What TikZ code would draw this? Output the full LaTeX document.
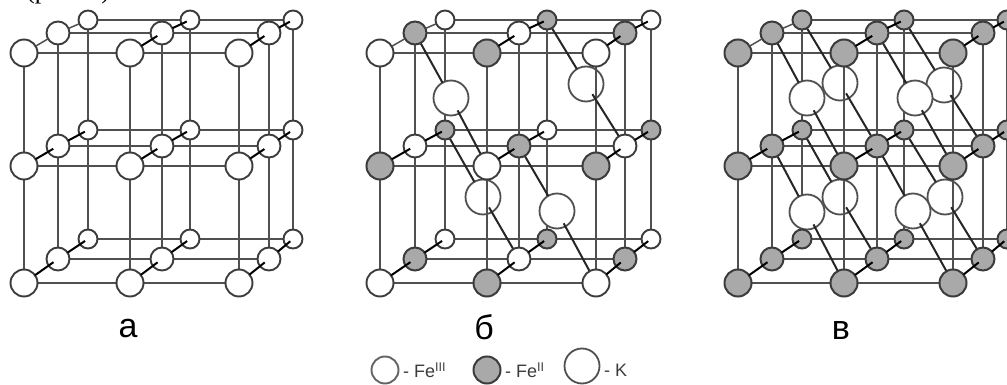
\documentclass[tikz,border=0pt]{standalone}
\usepackage{fontspec}
\setmainfont{Liberation Sans}
\newfontfamily\serifcap{Liberation Serif}
\usetikzlibrary{backgrounds}
\pgfdeclarelayer{lback}
\pgfdeclarelayer{kback}
\pgfdeclarelayer{lfront}
\pgfdeclarelayer{kfront}
\pgfdeclarelayer{ontop}
\pgfsetlayers{lback,kback,lfront,kfront,main,ontop}
\definecolor{atomgray}{HTML}{A9A9A9}
\definecolor{ink}{HTML}{3C3C3C}
\definecolor{rod}{HTML}{505050}
\tikzset{
  x=1pt,y=-1pt,
  atomw/.style={circle,draw=ink,line width=1.9pt,fill=white,inner sep=0pt,outer sep=0pt,minimum size=#1},
  atomg/.style={circle,draw=ink,line width=2pt,fill=atomgray,inner sep=0pt,outer sep=0pt,minimum size=#1},
  katom/.style={circle,draw=rod,line width=1.8pt,fill=white,inner sep=0pt,outer sep=0pt,minimum size=35pt},
  rod/.style={draw=rod,line width=1.9pt},
  depth/.style={draw=black,line width=2pt,shorten >=-6pt},
  depthlite/.style={draw=rod,line width=1.5pt},
  kbond/.style={draw=black!85,line width=2pt},
  klabel/.style={font=\fontsize{34}{36}\selectfont,inner sep=0pt},
  leg/.style={font=\fontsize{18}{20}\selectfont,text=ink,inner sep=0pt,anchor=west},
}
% #1 name, #2 #3 #4 column x of front, middle, back; #5 colour rule
\newcommand{\crystal}[5]{%
  \foreach \c in {1,2,3}{\foreach \r in {1,2,3}{%
    \pgfmathsetmacro\xa{{#2}[\c-1]}\pgfmathsetmacro\ya{{53,166,283}[\r-1]}%
    \pgfmathsetmacro\xb{{#3}[\c-1]}\pgfmathsetmacro\yb{{33,146,259}[\r-1]}%
    \pgfmathsetmacro\xc{{#4}[\c-1]}\pgfmathsetmacro\yc{{20,130,239}[\r-1]}%
    \pgfmathtruncatemacro\pa{mod(1+\c+\r,2)}%
    \ifcase#5\relax
      \def\sa{atomw}\def\sb{atomw}\def\sc{atomw}%
    \or
      \ifnum\pa=0 \def\sa{atomg}\def\sb{atomw}\def\sc{atomg}\else\def\sa{atomw}\def\sb{atomg}\def\sc{atomw}\fi
    \or
      \def\sa{atomg}\def\sb{atomg}\def\sc{atomg}%
    \fi
    \node[\sa=27pt] (#1-1-\c-\r) at (\xa,\ya) {};
    \node[\sb=23pt] (#1-2-\c-\r) at (\xb,\yb) {};
    \node[\sc=19pt] (#1-3-\c-\r) at (\xc,\yc) {};
  }}%
  \foreach \r in {1,2,3}{%
    \begin{pgfonlayer}{lback}
      \foreach \l in {2,3}{%
        \draw[rod] (#1-\l-1-\r) -- (#1-\l-2-\r);
        \draw[rod] (#1-\l-2-\r) -- (#1-\l-3-\r);
      }
    \end{pgfonlayer}
    \begin{pgfonlayer}{lfront}
      \draw[rod] (#1-1-1-\r) -- (#1-1-2-\r);
      \draw[rod] (#1-1-2-\r) -- (#1-1-3-\r);
    \end{pgfonlayer}
  }%
  \foreach \c in {1,2,3}{%
    \begin{pgfonlayer}{lback}
      \foreach \l in {2,3}{%
        \draw[rod] (#1-\l-\c-1) -- (#1-\l-\c-2);
        \draw[rod] (#1-\l-\c-2) -- (#1-\l-\c-3);
      }
    \end{pgfonlayer}
    \begin{pgfonlayer}{lfront}
      \draw[rod] (#1-1-\c-1) -- (#1-1-\c-2);
      \draw[rod] (#1-1-\c-2) -- (#1-1-\c-3);
    \end{pgfonlayer}
    \foreach \r in {1,2,3}{%
      \pgfmathtruncatemacro\cr{10*\c+\r}%
      \ifnum\cr=11 \def\ds{depthlite}\else\def\ds{depth}\fi
      \begin{pgfonlayer}{ontop}
        \draw[\ds] (#1-1-\c-\r) -- (#1-2-\c-\r);
        \draw[\ds] (#1-2-\c-\r) -- (#1-3-\c-\r);
      \end{pgfonlayer}
    }%
  }%
}
% K ion on the rod from atom #2 to atom #3: #1 its name, #4 position
\newcommand{\kfront}[4]{%
  \begin{pgfonlayer}{kfront}
    \node[katom] (#1) at (#4) {};
    \draw[kbond] (#2) -- (#1);
    \draw[kbond,shorten <=14pt] (#1.center) -- (#3);
  \end{pgfonlayer}
}
\newcommand{\kbehind}[4]{%
  \begin{pgfonlayer}{kback}
    \node[katom] (#1) at (#4) {};
  \end{pgfonlayer}
  \begin{pgfonlayer}{lfront}
    \draw[kbond] (#2) -- (#1);
    \draw[kbond,shorten <=12pt] (#1.center) -- (#3);
  \end{pgfonlayer}
}
\begin{document}
\begin{tikzpicture}
\useasboundingbox (0,0) rectangle (1007,385);
\clip (0,0) rectangle (1007,385);
\node[font=\serifcap\fontsize{26}{28}\selectfont,text=black,inner sep=0pt,anchor=base west] (cap) at (26,-1) {(рис. 1).};

\crystal{a}{24,130,239}{58,162,269}{88,190,293}{0}
\crystal{b}{380,487,596}{415,519,625}{445,547,651}{1}
\crystal{c}{738,844,953}{772,877,983}{802,904,1007}{2}

\kfront{bk1}{b-2-1-1}{b-1-2-2}{451,98}
\kbehind{bk2}{b-3-2-1}{b-2-3-2}{586,84}
\kbehind{bk3}{b-3-1-2}{b-2-2-3}{483,197}
\kfront{bk4}{b-2-2-2}{b-1-3-3}{557,211}

\kbehind{ck1}{c-3-1-1}{c-2-2-2}{840,83}
\kbehind{ck2}{c-3-2-1}{c-2-3-2}{944,85}
\kbehind{ck3}{c-3-1-2}{c-2-2-3}{840,197}
\kbehind{ck4}{c-3-2-2}{c-2-3-3}{945,197}
\kfront{ck5}{c-2-1-1}{c-1-2-2}{807,98}
\kfront{ck6}{c-2-2-1}{c-1-3-2}{915,98}
\kfront{ck7}{c-2-1-2}{c-1-2-3}{807,212}
\kfront{ck8}{c-2-2-2}{c-1-3-3}{913,211}

\node[klabel] (la) at (128,329) {а};
\node[klabel] (lb) at (484,327) {б};
\node[klabel] (lc) at (841,331) {в};

\node[atomw=27pt,draw=ink!80] (l1) at (385,370) {};
\node[leg] (t1) at (403,370) {- Fe\textsuperscript{III}};
\node[atomg=27pt] (l2) at (487,370) {};
\node[leg] (t2) at (505,370) {- Fe\textsuperscript{II}};
\node[katom] (l3) at (582,366) {};
\node[leg] (t3) at (604,370) {- K};
\end{tikzpicture}
\end{document}
